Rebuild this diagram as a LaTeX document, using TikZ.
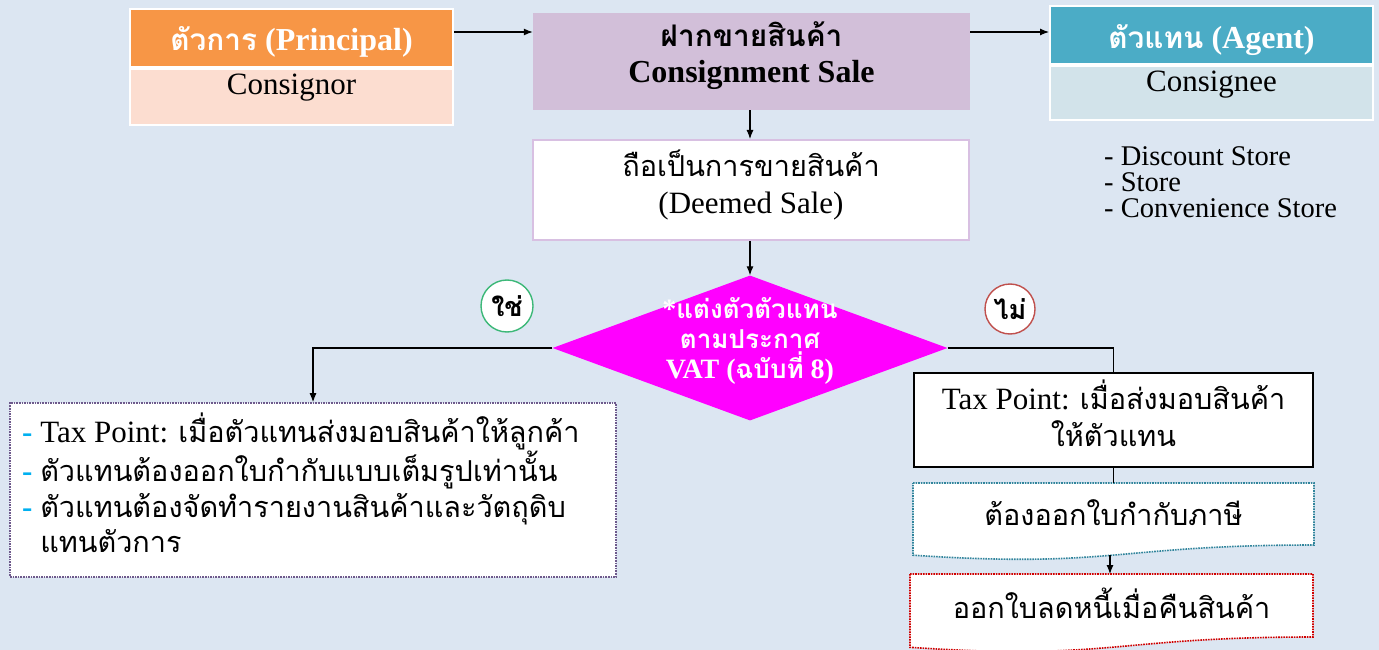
\documentclass[tikz,border=0pt]{standalone}
\usepackage{fontspec}
\setmainfont{Liberation Serif}
\newfontfamily\thai[Script=Thai,Scale=0.93]{Loma}
\usetikzlibrary{shapes.geometric,arrows.meta}
\definecolor{bg}{HTML}{DCE6F2}
\definecolor{orangeH}{HTML}{F79646}
\definecolor{orangeL}{HTML}{FCDDD0}
\definecolor{tealH}{HTML}{4BACC6}
\definecolor{tealL}{HTML}{D2E3EA}
\definecolor{lilac}{HTML}{D2BFD9}
\definecolor{lilacB}{HTML}{D8C0E2}
\definecolor{magentaD}{HTML}{FF00FF}
\definecolor{greenC}{HTML}{3CB878}
\definecolor{redC}{HTML}{C0504D}
\definecolor{purpleD}{HTML}{6E5A8C}
\definecolor{tealD}{HTML}{31859C}
\definecolor{redD}{HTML}{D00000}
\definecolor{dashC}{HTML}{00B0F0}
\begin{document}
\begin{tikzpicture}[x=1pt,y=-1pt,
  body/.style={font=\fontsize{31}{37}\selectfont, align=center, inner sep=0},
  hdr/.style={font=\bfseries\fontsize{32}{36}\selectfont, align=center, inner sep=0},
  panel/.style={rectangle, inner sep=0, draw=white, line width=2pt},
  arr/.style={-{Latex[length=9pt,width=7pt]}, line width=1.1pt},
  ln/.style={line width=1.1pt},
  circ/.style={circle, fill=white, line width=1.4pt, minimum size=52pt, inner sep=0,
    font=\bfseries\fontsize{29}{30}\selectfont\thai},
]
\fill[bg] (0,0) rectangle (1379,650);
\useasboundingbox (0,0) rectangle (1379,650);

% Principal
\node[panel, fill=orangeH, minimum width=323pt, minimum height=58pt] (ph) at (291.5,38.5) {};
\node[panel, fill=orangeL, minimum width=323pt, minimum height=56pt] (pl) at (291.5,97) {};
\node[hdr, text=white] (pht) at (291.5,42) {{\thai ตัวการ} (Principal)};
\node[body] (plt) at (291.5,88) {Consignor};

% Consignment sale
\node[rectangle, fill=lilac, minimum width=437pt, minimum height=97pt, inner sep=0] (cs) at (751.5,61.5) {};
\node[hdr] (cst) at (751.5,56) {{\thai ฝากขายสินค้า}\\Consignment Sale};

% Agent
\node[panel, fill=tealH, minimum width=323pt, minimum height=58pt] (ah) at (1211.5,35) {};
\node[panel, fill=tealL, minimum width=323pt, minimum height=54pt] (al) at (1211.5,93) {};
\node[hdr, text=white] (aht) at (1211.5,40) {{\thai ตัวแทน} (Agent)};
\node[body] (alt) at (1211.5,85) {Consignee};

\node[body, align=left, anchor=north west, font=\fontsize{28.5}{26}\selectfont] (list) at (1104,146)
  {- Discount Store\\- Store\\- Convenience Store};

% Deemed sale
\node[rectangle, fill=white, draw=lilacB, line width=2pt, minimum width=436pt, minimum height=100pt, inner sep=0] (ds) at (751,190) {};
\node[body] (dst) at (751,185) {{\thai ถือเป็นการขายสินค้า}\\(Deemed Sale)};

% Decision
\node[diamond, fill=magentaD, minimum width=395pt, minimum height=145pt, inner sep=0, aspect=2.72] (dec) at (750,348) {};
\node[hdr, text=white, font=\bfseries\fontsize{28}{30}\selectfont] (dect) at (750,341)
  {*{\thai แต่งตัวตัวแทน}\\{\thai ตามประกาศ}\\VAT ({\thai ฉบับที่} 8)};

\node[circ, draw=greenC] (yes) at (507,306) {ใช่};
\node[circ, draw=redC, minimum size=50pt] (no) at (1010,309) {ไม่};

% Left box
\node[rectangle, fill=white, draw=purpleD, densely dotted, line width=1.6pt, minimum width=606pt, minimum height=174pt, inner sep=0] (lb) at (313,490) {};
\node[body, align=left, anchor=north west, font=\fontsize{31}{35.5}\selectfont] (lbt) at (22,413)
  {{\color{dashC}\textbf{-}} Tax Point: {\thai เมื่อตัวแทนส่งมอบสินค้าให้ลูกค้า}\\
   {\color{dashC}\textbf{-}} {\thai ตัวแทนต้องออกใบกำกับแบบเต็มรูปเท่านั้น}\\
   {\color{dashC}\textbf{-}} {\thai ตัวแทนต้องจัดทำรายงานสินค้าและวัตถุดิบ}\\
   \phantom{\textbf{-} }{\thai แทนตัวการ}};

% Right box
\node[rectangle, fill=white, draw=black, line width=1.3pt, minimum width=399pt, minimum height=94pt, inner sep=0] (rb) at (1113.5,420) {};
\node[body] (rbt) at (1113.5,413) {Tax Point: {\thai เมื่อส่งมอบสินค้า}\\{\thai ให้ตัวแทน}};

% Document 1
\fill[white] (913,483) -- (1314,483) -- (1314,545)
  .. controls (1113.5,545) and (1113.5,568.5) .. (913,555.2) -- cycle;
\draw[tealD, densely dotted, line width=1.6pt] (913,483) -- (1314,483) -- (1314,545)
  .. controls (1113.5,545) and (1113.5,568.5) .. (913,555.2) -- cycle;
\node[body] (d1) at (1113.5,513) {\thai ต้องออกใบกำกับภาษี};
\coordinate (d1top) at (1110,483);
\coordinate (d1bot) at (1110,555);

% Document 2
\fill[white] (910,574) -- (1313,574) -- (1313,637)
  .. controls (1111.5,637) and (1111.5,661) .. (910,647.3) -- cycle;
\draw[redD, densely dotted, line width=1.6pt] (910,574) -- (1313,574) -- (1313,637)
  .. controls (1111.5,637) and (1111.5,661) .. (910,647.3) -- cycle;
\node[body] (d2) at (1111.5,603) {\thai ออกใบลดหนี้เมื่อคืนสินค้า};
\coordinate (d2top) at (1110,574);

% Connectors
\draw[arr] (ph.east |- 0,32) -- (cs.west |- 0,32);
\draw[arr] (cs.east |- 0,32) -- (ah.west |- 0,32);
\draw[arr] (cs.south -| dec.north) -- (ds.north -| dec.north);
\draw[arr] (ds.south -| dec.north) -- (dec.north);
\draw[arr] (dec.west) -| (lb.north);
\draw[ln] (dec.east) -| (rb.north);
\draw[ln] (rb.south) -- (d1top -| rb.south);
\draw[arr] (d1bot) -- (d2top);
\end{tikzpicture}
\end{document}
